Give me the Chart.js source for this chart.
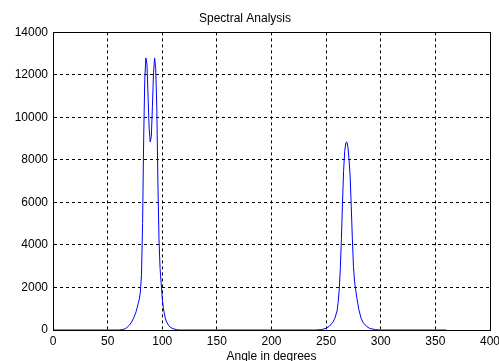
<!DOCTYPE html>
<html>
<head>
<meta charset="utf-8">
<script src="https://cdn.jsdelivr.net/npm/chart.js@4"></script>
<style>
  html, body { margin: 0; padding: 0; background: #fff; }
  #wrap { width: 499px; height: 361px; }
</style>
</head>
<body>
<div id="wrap"><canvas id="spectrum"></canvas></div>
<script>
// angle samples (degrees) and spectrum magnitude
const angles = [0, 60, 64, 66, 68, 70, 72, 74, 76, 77, 78, 79, 80, 81, 82, 83, 84, 85, 86, 87, 88, 89, 90,
  91, 92, 93, 94, 95, 96, 97, 98, 99, 100, 101, 102, 103, 104, 106, 108, 110, 113, 116, 120,
  240, 246, 250, 253, 256, 258, 260, 261, 262, 263, 264, 265, 266, 267, 268, 269, 270, 271, 272,
  273, 274, 275, 276, 277, 278, 279, 280, 281, 282, 284, 287, 290, 295, 300, 360];
const power = [0, 0, 20, 60, 130, 230, 380, 580, 850, 1050, 1250, 1450, 1800, 2600, 5000, 9000, 11800, 12800, 12500, 11000, 9500, 8850, 9100,
  10500, 12100, 12800, 12300, 10500, 7000, 4300, 2900, 2200, 1500, 1050, 750, 520, 380, 200, 110, 60, 20, 0, 0,
  0, 20, 80, 180, 350, 550, 900, 1300, 1900, 2900, 4300, 6000, 7500, 8400, 8800, 8850, 8600, 8000, 7200,
  5800, 4300, 3000, 2300, 1900, 1550, 1250, 950, 750, 550, 340, 170, 70, 20, 0, 0];

const xTicks = [0, 50, 100, 150, 200, 250, 300, 350, 400];
const yTicks = [0, 2000, 4000, 6000, 8000, 10000, 12000, 14000];

const tickFont = { family: "'Liberation Sans', Arial, sans-serif", size: 12 };

// draws the solid box round the plot, like matlab axes
const boxPlugin = {
  id: 'box',
  afterDraw(chart) {
    const a = chart.chartArea;
    const ctx = chart.ctx;
    ctx.save();
    ctx.strokeStyle = '#000';
    ctx.lineWidth = 1;
    ctx.setLineDash([]);
    ctx.strokeRect(Math.round(a.left) + 0.5, Math.round(a.top) + 0.5,
      Math.round(a.right - a.left), Math.round(a.bottom - a.top));
    ctx.restore();
  }
};

new Chart(document.getElementById('spectrum'), {
  type: 'line',
  data: {
    datasets: [{
      data: angles.map((a, i) => ({ x: a, y: power[i] })),
      borderColor: '#0000ff',
      borderWidth: 1,
      pointRadius: 0,
      tension: 0,
      fill: false
    }]
  },
  options: {
    responsive: true,
    maintainAspectRatio: false,
    animation: false,
    layout: { padding: { left: 0, right: 9, top: 0, bottom: 0 } },
    plugins: {
      legend: { display: false },
      tooltip: { enabled: false },
      title: {
        display: true,
        text: 'Spectral Analysis',
        color: '#000',
        font: { family: tickFont.family, size: 12, weight: 'normal' },
        padding: { top: 11, bottom: 7 }
      }
    },
    scales: {
      x: {
        type: 'linear',
        min: 0,
        max: 400,
        afterBuildTicks: s => { s.ticks = xTicks.map(v => ({ value: v })); },
        afterFit: s => { s.height = 31; s.paddingLeft = 0; s.paddingRight = 0; },
        ticks: { color: '#000', font: tickFont, padding: 4, maxRotation: 0, autoSkip: false },
        grid: { color: '#000', lineWidth: 1, drawTicks: false },
        border: { display: true, color: '#000', dash: [3, 3] },
        title: {
          display: true,
          text: 'Angle in degrees',
          color: '#000',
          font: { family: tickFont.family, size: 12 },
          padding: { top: 0, bottom: -3 }
        }
      },
      y: {
        min: 0,
        max: 14000,
        afterBuildTicks: s => { s.ticks = yTicks.map(v => ({ value: v })); },
        afterFit: s => { s.width = 53; },
        ticks: { color: '#000', font: tickFont, padding: 5, callback: v => String(v) },
        grid: { color: '#000', lineWidth: 1, drawTicks: false },
        border: { display: true, color: '#000', dash: [3, 3] }
      }
    }
  },
  plugins: [boxPlugin]
});
</script>
</body>
</html>
